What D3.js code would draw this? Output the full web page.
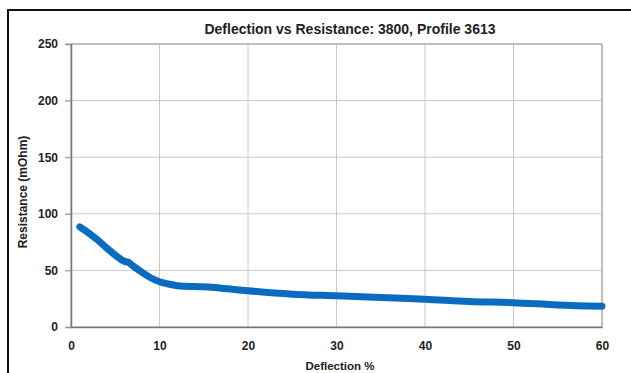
<!DOCTYPE html>
<html>
<head>
<meta charset="utf-8">
<script src="https://cdn.jsdelivr.net/npm/d3@7"></script>
<style>
  body { margin: 0; background: #fff; }
  text { font-family: "Liberation Sans", Arial, sans-serif; }
</style>
</head>
<body>
<div id="chart"></div>
<script>
// deflection (%) and resistance (mOhm)
const deflection = [1, 2, 3, 4, 5, 6, 6.5, 7, 8, 9, 10, 11, 12, 13, 15, 18, 20, 25, 30, 35, 40, 45, 50, 55, 60];
const resistance = [88.5, 83, 77, 70, 63.5, 58, 57, 54, 48.5, 43.5, 40, 38, 36.5, 36, 35.5, 33.5, 32, 29, 27.5, 26, 24.5, 22.5, 21.5, 19.5, 18.3];
const xTicks = [0, 10, 20, 30, 40, 50, 60];
const yTicks = [0, 50, 100, 150, 200, 250];

const width = 631, height = 373;
const margin = { top: 44, right: 29, bottom: 46, left: 71 };
const plotW = width - margin.left - margin.right;
const plotH = height - margin.top - margin.bottom;

const svg = d3.select("#chart").append("svg")
  .attr("width", width)
  .attr("height", height);

// outer frame
svg.append("rect")
  .attr("x", 8).attr("y", 10)
  .attr("width", 640).attr("height", 380)
  .style("fill", "none")
  .style("stroke", "#111")
  .style("stroke-width", 2);

const g = svg.append("g")
  .attr("transform", `translate(${margin.left},${margin.top})`);

const x = d3.scaleLinear().domain([0, 60]).range([0, plotW]);
const y = d3.scaleLinear().domain([0, 250]).range([plotH, 0]);

// grid
g.selectAll(".vgrid").data(xTicks.slice(1)).enter().append("line")
  .attr("x1", d => x(d)).attr("x2", d => x(d))
  .attr("y1", 0).attr("y2", plotH)
  .style("stroke", "#c8c8c8").style("stroke-width", 1);

g.selectAll(".hgrid").data(yTicks.slice(1)).enter().append("line")
  .attr("x1", -6).attr("x2", plotW)
  .attr("y1", d => y(d)).attr("y2", d => y(d))
  .style("stroke", "#c8c8c8").style("stroke-width", 1);

// plot border
g.append("rect")
  .attr("width", plotW).attr("height", plotH)
  .style("fill", "none")
  .style("stroke", "#9a9a9a")
  .style("stroke-width", 1);

// axes
const xAxis = g.append("g")
  .attr("transform", `translate(0,${plotH})`)
  .call(d3.axisBottom(x).tickValues(xTicks).tickSize(0).tickPadding(14));
const yAxis = g.append("g")
  .call(d3.axisLeft(y).tickValues(yTicks).tickSize(6).tickPadding(7));

[xAxis, yAxis].forEach(a => {
  a.select(".domain").style("stroke", "#777").style("stroke-width", 1.5);
  a.selectAll(".tick line").style("stroke", "#999");
  a.selectAll("text")
    .style("font-family", "'Liberation Sans', Arial, sans-serif")
    .style("font-size", "12px")
    .style("font-weight", "bold")
    .style("fill", "#222");
});

// the curve
const line = d3.line()
  .x((d, i) => x(deflection[i]))
  .y(d => y(d))
  .curve(d3.curveMonotoneX);

g.append("path")
  .datum(resistance)
  .attr("d", line)
  .style("fill", "none")
  .style("stroke", "#0a6cc0")
  .style("stroke-width", 7)
  .style("stroke-linecap", "round");

// title
svg.append("text")
  .attr("x", 350).attr("y", 34)
  .style("text-anchor", "middle")
  .style("font-size", "14px")
  .style("font-weight", "bold")
  .style("fill", "#222")
  .text("Deflection vs Resistance: 3800, Profile 3613");

// x label
svg.append("text")
  .attr("x", 340).attr("y", 370)
  .style("text-anchor", "middle")
  .style("font-size", "11.5px")
  .style("font-weight", "bold")
  .style("fill", "#222")
  .text("Deflection %");

// y label
svg.append("text")
  .attr("transform", "translate(27,192) rotate(-90)")
  .style("text-anchor", "middle")
  .style("font-size", "12px")
  .style("font-weight", "bold")
  .style("fill", "#222")
  .text("Resistance (mOhm)");
</script>
</body>
</html>
